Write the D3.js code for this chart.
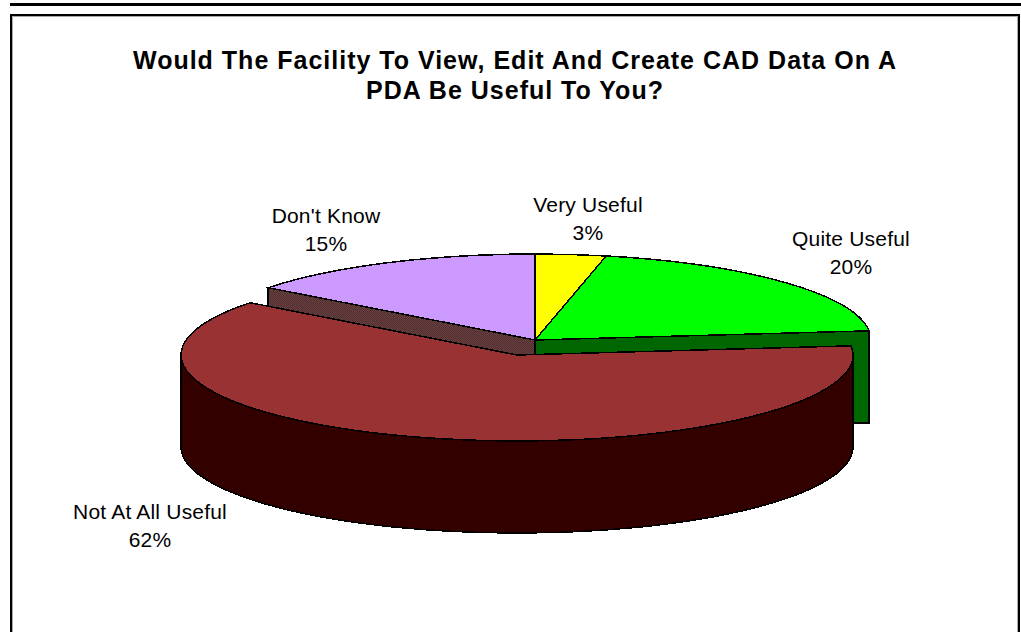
<!DOCTYPE html>
<html><head><meta charset="utf-8">
<script src="https://cdn.jsdelivr.net/npm/d3@7"></script>
<style>html,body{margin:0;padding:0;background:#fff;overflow:hidden}svg{display:block}</style>
</head><body><svg id="c" width="1021" height="632"></svg>
<script>
const categories = ["Very Useful","Quite Useful","Not At All Useful","Don't Know"];
const values = [3.4,19.9,62.1,14.6];
const topColors = ["#ffff00","#00ff00","#993333","#cc99ff"];
const sideColors = ["#666600","#006600","#330000","url(#dither)"];
const titleLines = ["Would The Facility To View, Edit And Create CAD Data On A","PDA Be Useful To You?"];
const exploded = [false,false,true,false];

const svg = d3.select("#c");
const defs = svg.append("defs");
const pat = defs.append("pattern").attr("id","dither").attr("width",2).attr("height",2).attr("patternUnits","userSpaceOnUse");
pat.append("rect").attr("width",2).attr("height",2).attr("fill","#6b3f3f");
pat.append("rect").attr("width",1).attr("height",1).attr("fill","#4f3030");
pat.append("rect").attr("x",1).attr("y",1).attr("width",1).attr("height",1).attr("fill","#4f3030");

// frame
svg.append("rect").attr("x",10).attr("y",3).attr("width",1011).attr("height",3).attr("fill","#000");
svg.append("path").attr("d","M11 632V15H1019V632").attr("fill","none").attr("stroke","#000").attr("stroke-width",2);
svg.append("path").attr("d","M12.5 632V16.5H1017.5V632").attr("fill","none").attr("stroke","#aaa").attr("stroke-width",1);

// title
const titleFont = "'Liberation Sans',Arial,sans-serif";
svg.append("g").selectAll("text").data(titleLines).join("text")
  .attr("x",515).attr("y",(d,i)=>69+i*30)
  .attr("text-anchor","middle").attr("font-family",titleFont)
  .attr("font-size",25).attr("font-weight","bold").attr("letter-spacing",1).attr("fill","#000")
  .text(d=>d);

// pie geometry
const rx = 336, ry = 86, depth = 92;
const cx = 535, cy = 340, explodeDx = -18, explodeDy = 15;
const arcs = d3.pie().sort(null).value(d=>d)(values);
const pt = (a,c)=>[c[0]+rx*Math.sin(a), c[1]-ry*Math.cos(a)];
const centerOf = i => exploded[i] ? [cx+explodeDx,cy+explodeDy] : [cx,cy];
const A = (a0,a1,p)=>`A${rx} ${ry} 0 ${a1-a0>Math.PI?1:0} 1 ${p[0]} ${p[1]}`;

function topPath(d){
  const c = centerOf(d.index), p0 = pt(d.startAngle,c), p1 = pt(d.endAngle,c);
  return `M${c[0]} ${c[1]}L${p0[0]} ${p0[1]}${A(d.startAngle,d.endAngle,p1)}Z`;
}
function facePath(d,a){
  const c = centerOf(d.index), p = pt(a,c);
  return `M${c[0]} ${c[1]}L${p[0]} ${p[1]}V${p[1]+depth}L${c[0]} ${c[1]+depth}Z`;
}
function outerWall(d){
  const s = Math.max(d.startAngle,Math.PI/2), e = Math.min(d.endAngle,Math.PI*1.5);
  if(e<=s) return null;
  const c = centerOf(d.index), p0 = pt(s,c), p1 = pt(e,c);
  const q0=[p0[0],p0[1]+depth], q1=[p1[0],p1[1]+depth];
  return `M${p0[0]} ${p0[1]}${A(s,e,p1)}V${q1[1]}A${rx} ${ry} 0 ${e-s>Math.PI?1:0} 0 ${q0[0]} ${q0[1]}Z`;
}
const g = svg.append("g").attr("stroke","#000").attr("stroke-width",1.5).attr("stroke-linejoin","miter").attr("shape-rendering","crispEdges");
const back = arcs.filter(d=>!exploded[d.index]);
const front = arcs.filter(d=>exploded[d.index]);
const n = values.length;

// cut faces exposed by the exploded slice
back.forEach(d=>{
  if(exploded[(d.index+1)%n]) g.append("path").attr("d",facePath(d,d.endAngle)).attr("fill",sideColors[d.index]);
  if(exploded[(d.index+n-1)%n]) g.append("path").attr("d",facePath(d,d.startAngle)).attr("fill",sideColors[d.index]);
});
g.selectAll("path.top").data(back).join("path").attr("class","top").attr("d",topPath).attr("fill",d=>topColors[d.index]);
// exploded slice
front.forEach(d=>{
  const w = outerWall(d);
  if(w) g.append("path").attr("d",w).attr("fill",sideColors[d.index]);
});
g.selectAll("path.front").data(front).join("path").attr("class","front").attr("d",topPath).attr("fill",d=>topColors[d.index]);

// labels
const labelX = [588,851,150,326];
const labelY = [212,246,519,223];
const fmt = d3.format(".0f");
const labels = svg.append("g").attr("font-family",titleFont).attr("font-size",21).attr("fill","#000").attr("text-anchor","middle").attr("letter-spacing",0.2);
arcs.forEach(d=>{
  const i = d.index;
  labels.append("text").attr("x",labelX[i]).attr("y",labelY[i]).text(categories[i]);
  labels.append("text").attr("x",labelX[i]).attr("y",labelY[i]+27.5).text(fmt(values[i])+"%");
});
</script></body></html>
